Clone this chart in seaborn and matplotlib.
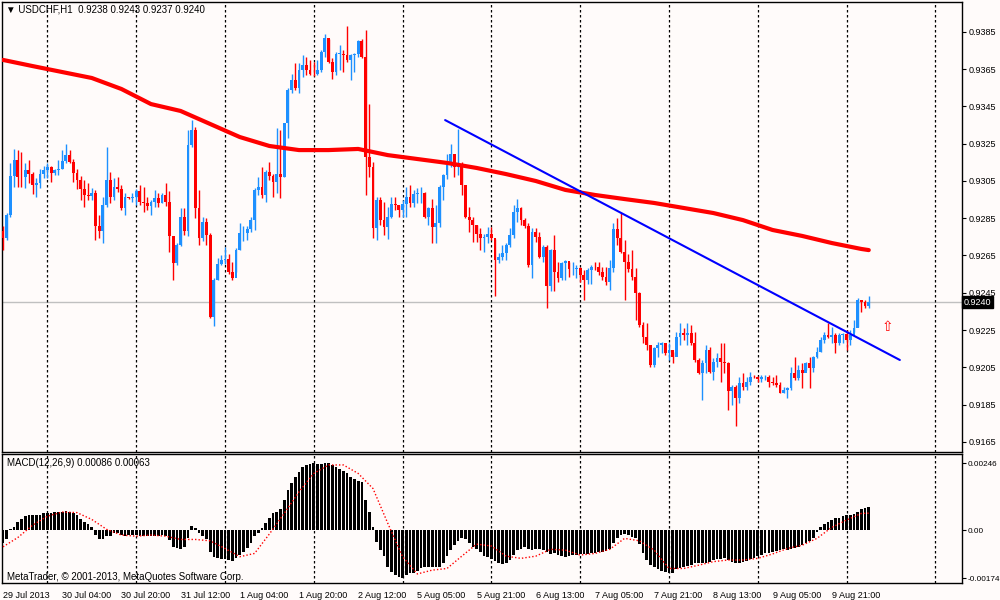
import matplotlib
matplotlib.use("Agg")
import matplotlib.pyplot as plt
import matplotlib.transforms as mtransforms
import seaborn as sns

sns.set_style("white")
plt.rcParams['font.family'] = ['Liberation Sans', 'DejaVu Sans']

# USDCHF H1 candles (open of each bar = previous close)
first_open = 0.92779
closes = [
    0.92743, 0.92868, 0.93076, 0.93165, 0.93073, 0.93069, 0.93108, 0.93090, 0.93028, 0.93037,
    0.93087, 0.93108, 0.93126, 0.93094, 0.93108, 0.93117, 0.93158, 0.93188, 0.93153, 0.93094,
    0.93058, 0.93005, 0.92975, 0.92969, 0.92987, 0.92806, 0.92779, 0.92921, 0.93058, 0.92966,
    0.93019, 0.93005, 0.92903, 0.92966, 0.92957, 0.92966, 0.92998, 0.92939, 0.92930, 0.92916,
    0.92939, 0.92957, 0.92930, 0.92975, 0.92939, 0.92752, 0.92608, 0.92706, 0.92859, 0.92779,
    0.93244, 0.93324, 0.92904, 0.92743, 0.92832, 0.92761, 0.92322, 0.92518, 0.92607, 0.92628,
    0.92632, 0.92562, 0.92527, 0.92679, 0.92770, 0.92770, 0.92791, 0.92841, 0.93001, 0.93019,
    0.92975, 0.93099, 0.93076, 0.93046, 0.93090, 0.93069, 0.93361, 0.93538, 0.93592, 0.93547,
    0.93645, 0.93672, 0.93645, 0.93627, 0.93622, 0.93645, 0.93743, 0.93819, 0.93690, 0.93636,
    0.93734, 0.93734, 0.93725, 0.93702, 0.93725, 0.93734, 0.93802, 0.93716, 0.93180, 0.93126,
    0.92796, 0.92947, 0.92840, 0.92804, 0.92858, 0.92929, 0.92920, 0.92894, 0.92926, 0.92965,
    0.92930, 0.92979, 0.92983, 0.92987, 0.92858, 0.92903, 0.92805, 0.92823, 0.93019, 0.93081,
    0.93134, 0.93197, 0.93125, 0.93134, 0.93028, 0.92858, 0.92841, 0.92814, 0.92768, 0.92742,
    0.92751, 0.92768, 0.92742, 0.92626, 0.92644, 0.92662, 0.92706, 0.92760, 0.92885, 0.92903,
    0.92841, 0.92808, 0.92599, 0.92777, 0.92751, 0.92644, 0.92697, 0.92484, 0.92679, 0.92564,
    0.92528, 0.92608, 0.92620, 0.92576, 0.92576, 0.92581, 0.92546, 0.92519, 0.92572, 0.92590,
    0.92587, 0.92563, 0.92537, 0.92510, 0.92581, 0.92791, 0.92743, 0.92671, 0.92617, 0.92576,
    0.92537, 0.92447, 0.92277, 0.92214, 0.92170, 0.92062, 0.92152, 0.92170, 0.92179, 0.92125,
    0.92143, 0.92107, 0.92214, 0.92232, 0.92223, 0.92232, 0.92179, 0.92089, 0.92018, 0.92071,
    0.92143, 0.92027, 0.92080, 0.92098, 0.92080, 0.92071, 0.91922, 0.91943, 0.91884, 0.91964,
    0.91946, 0.91973, 0.92000, 0.91996, 0.91989, 0.91996, 0.92000, 0.91973, 0.91964, 0.91955,
    0.91914, 0.91929, 0.91938, 0.92018, 0.91991, 0.92035, 0.92021, 0.92071, 0.92044, 0.92107,
    0.92134, 0.92197, 0.92223, 0.92211, 0.92223, 0.92179, 0.92223, 0.92229, 0.92197, 0.92223,
    0.92259, 0.92411, 0.92402, 0.92380, 0.92400,
]
highs = [
    0.92806, 0.92877, 0.93144, 0.93224, 0.93215, 0.93206, 0.93144, 0.93165, 0.93099, 0.93064,
    0.93117, 0.93130, 0.93144, 0.93130, 0.93117, 0.93165, 0.93215, 0.93251, 0.93215, 0.93170,
    0.93117, 0.93076, 0.93058, 0.93037, 0.93010, 0.93001, 0.92868, 0.92966, 0.93233, 0.93099,
    0.93064, 0.93069, 0.93028, 0.92984, 0.92966, 0.92984, 0.93005, 0.93028, 0.93019, 0.92966,
    0.92948, 0.93001, 0.92984, 0.92984, 0.93037, 0.92998, 0.92752, 0.92717, 0.92904, 0.92904,
    0.93324, 0.93377, 0.93342, 0.93001, 0.92859, 0.92850, 0.92770, 0.92527, 0.92634, 0.92651,
    0.92696, 0.92660, 0.92616, 0.92688, 0.92823, 0.92806, 0.92806, 0.92855, 0.93010, 0.93069,
    0.93126, 0.93108, 0.93153, 0.93087, 0.93333, 0.93324, 0.93361, 0.93547, 0.93627, 0.93681,
    0.93681, 0.93725, 0.93716, 0.93698, 0.93690, 0.93698, 0.93752, 0.93841, 0.93814, 0.93713,
    0.93743, 0.93778, 0.93752, 0.93880, 0.93734, 0.93738, 0.93805, 0.93814, 0.93860, 0.93465,
    0.93153, 0.92965, 0.92965, 0.92938, 0.92911, 0.92965, 0.92965, 0.92921, 0.92947, 0.93019,
    0.93028, 0.93001, 0.93010, 0.93019, 0.92992, 0.92912, 0.92956, 0.92921, 0.93028, 0.93090,
    0.93197, 0.93250, 0.93197, 0.93330, 0.93152, 0.93028, 0.92912, 0.92858, 0.92814, 0.92795,
    0.92768, 0.92804, 0.92804, 0.92736, 0.92662, 0.92706, 0.92715, 0.92795, 0.92921, 0.92956,
    0.92912, 0.92850, 0.92823, 0.92795, 0.92795, 0.92777, 0.92706, 0.92706, 0.92685, 0.92760,
    0.92617, 0.92617, 0.92626, 0.92617, 0.92617, 0.92599, 0.92587, 0.92572, 0.92581, 0.92599,
    0.92617, 0.92617, 0.92590, 0.92590, 0.92626, 0.92823, 0.92849, 0.92876, 0.92733, 0.92658,
    0.92680, 0.92581, 0.92456, 0.92295, 0.92286, 0.92170, 0.92161, 0.92188, 0.92188, 0.92179,
    0.92179, 0.92134, 0.92241, 0.92286, 0.92259, 0.92286, 0.92277, 0.92241, 0.92098, 0.92089,
    0.92170, 0.92161, 0.92098, 0.92125, 0.92179, 0.92179, 0.92080, 0.91955, 0.91955, 0.92000,
    0.92018, 0.92000, 0.92026, 0.92009, 0.92003, 0.92007, 0.92009, 0.92009, 0.92000, 0.92009,
    0.91973, 0.91946, 0.91946, 0.92053, 0.92107, 0.92062, 0.92071, 0.92080, 0.92107, 0.92110,
    0.92161, 0.92214, 0.92241, 0.92286, 0.92268, 0.92232, 0.92232, 0.92236, 0.92250, 0.92250,
    0.92304, 0.92420, 0.92411, 0.92411, 0.92430,
]
lows = [
    0.92681, 0.92734, 0.92859, 0.93019, 0.93019, 0.93019, 0.93015, 0.93037, 0.92980, 0.92966,
    0.93015, 0.93064, 0.93064, 0.93046, 0.93081, 0.93081, 0.93117, 0.93144, 0.93144, 0.93046,
    0.93005, 0.92948, 0.92909, 0.92948, 0.92948, 0.92734, 0.92743, 0.92717, 0.92912, 0.92930,
    0.92948, 0.92992, 0.92895, 0.92868, 0.92952, 0.92939, 0.92921, 0.92921, 0.92886, 0.92895,
    0.92868, 0.92912, 0.92912, 0.92930, 0.92916, 0.92670, 0.92519, 0.92599, 0.92699, 0.92761,
    0.92752, 0.93235, 0.92850, 0.92708, 0.92726, 0.92708, 0.92313, 0.92269, 0.92518, 0.92598,
    0.92607, 0.92553, 0.92518, 0.92562, 0.92681, 0.92726, 0.92734, 0.92774, 0.92788, 0.92975,
    0.92957, 0.92939, 0.93055, 0.92966, 0.92984, 0.92957, 0.93073, 0.93280, 0.93520, 0.93538,
    0.93520, 0.93609, 0.93618, 0.93618, 0.93613, 0.93618, 0.93636, 0.93716, 0.93681, 0.93600,
    0.93618, 0.93645, 0.93636, 0.93690, 0.93592, 0.93636, 0.93716, 0.93713, 0.92974, 0.93073,
    0.92742, 0.92733, 0.92813, 0.92760, 0.92737, 0.92849, 0.92894, 0.92858, 0.92858, 0.92858,
    0.92912, 0.92912, 0.92930, 0.92930, 0.92850, 0.92814, 0.92719, 0.92719, 0.92805, 0.92947,
    0.93063, 0.93125, 0.93072, 0.93081, 0.92974, 0.92850, 0.92777, 0.92724, 0.92724, 0.92679,
    0.92670, 0.92715, 0.92733, 0.92430, 0.92608, 0.92626, 0.92626, 0.92697, 0.92742, 0.92832,
    0.92814, 0.92795, 0.92590, 0.92528, 0.92724, 0.92635, 0.92617, 0.92368, 0.92457, 0.92457,
    0.92510, 0.92519, 0.92519, 0.92537, 0.92546, 0.92528, 0.92510, 0.92411, 0.92498, 0.92498,
    0.92572, 0.92546, 0.92519, 0.92492, 0.92466, 0.92563, 0.92707, 0.92662, 0.92411, 0.92564,
    0.92519, 0.92303, 0.92268, 0.92179, 0.92143, 0.92053, 0.92053, 0.92107, 0.92125, 0.92116,
    0.92089, 0.92075, 0.92116, 0.92170, 0.92197, 0.92170, 0.92170, 0.92080, 0.92014, 0.91874,
    0.92018, 0.92018, 0.91982, 0.92053, 0.91973, 0.92018, 0.91821, 0.91848, 0.91733, 0.91857,
    0.91929, 0.91929, 0.91955, 0.91991, 0.91973, 0.91973, 0.91982, 0.91946, 0.91955, 0.91946,
    0.91911, 0.91911, 0.91884, 0.91929, 0.91982, 0.91982, 0.91937, 0.92035, 0.91937, 0.92026,
    0.92098, 0.92134, 0.92179, 0.92205, 0.92179, 0.92125, 0.92170, 0.92179, 0.92143, 0.92170,
    0.92241, 0.92268, 0.92349, 0.92367, 0.92370,
]

# moving average (thick red), sampled every 8 bars
ma_bars = [0, 8, 16, 24, 32, 40, 48, 56, 64, 72, 80, 88, 96, 104, 112, 120, 128, 136,
           144, 152, 160, 168, 176, 184, 192, 200, 208, 216, 224, 232, 234]
ma_vals = [0.93700, 0.93667, 0.93635, 0.93603, 0.93544, 0.93463, 0.93426, 0.93356, 0.93286,
           0.93238, 0.93216, 0.93216, 0.93222, 0.93189, 0.93168, 0.93147, 0.93120, 0.93087,
           0.93050, 0.93002, 0.92975, 0.92953, 0.92932, 0.92905, 0.92878, 0.92840, 0.92787,
           0.92755, 0.92717, 0.92685, 0.92679]

# hand drawn trend line
trend_bars = [119.5, 242.4]
trend_prices = [0.93377, 0.92089]
last_price = 0.9240

# MACD(12,26,9) histogram, one value per bar
macd = [
    -0.00047, -0.00033, 0.00004, 0.00013, 0.00032, 0.00041, 0.00054, 0.00055, 0.00055, 0.00056,
    0.00057, 0.00062, 0.00065, 0.00065, 0.00066, 0.00066, 0.00067, 0.00071, 0.00069, 0.00062,
    0.00055, 0.00043, 0.00032, 0.00023, 0.00011, -0.00017, -0.00033, -0.00033, -0.00021, -0.00021,
    -0.00011, -0.00011, -0.00017, -0.00019, -0.00018, -0.00017, -0.00017, -0.00021, -0.00021, -0.00021,
    -0.00021, -0.00021, -0.00021, -0.00017, -0.00021, -0.00035, -0.00060, -0.00066, -0.00069, -0.00060,
    -0.00029, 0.00016, 0.00007, -0.00011, -0.00021, -0.00033, -0.00078, -0.00096, -0.00102, -0.00106,
    -0.00106, -0.00108, -0.00111, -0.00102, -0.00090, -0.00078, -0.00066, -0.00047, -0.00021, -0.00009,
    0.00007, 0.00026, 0.00044, 0.00062, 0.00068, 0.00077, 0.00111, 0.00147, 0.00174, 0.00194,
    0.00214, 0.00230, 0.00239, 0.00242, 0.00245, 0.00242, 0.00242, 0.00246, 0.00245, 0.00239,
    0.00230, 0.00223, 0.00218, 0.00208, 0.00196, 0.00186, 0.00181, 0.00178, 0.00111, 0.00068,
    0.00013, -0.00041, -0.00072, -0.00094, -0.00133, -0.00151, -0.00163, -0.00169, -0.00174, -0.00163,
    -0.00157, -0.00157, -0.00147, -0.00139, -0.00133, -0.00133, -0.00135, -0.00135, -0.00133, -0.00120,
    -0.00094, -0.00072, -0.00054, -0.00038, -0.00029, -0.00033, -0.00047, -0.00060, -0.00069, -0.00078,
    -0.00094, -0.00096, -0.00106, -0.00111, -0.00120, -0.00123, -0.00118, -0.00108, -0.00090, -0.00072,
    -0.00069, -0.00062, -0.00069, -0.00072, -0.00069, -0.00069, -0.00072, -0.00078, -0.00086, -0.00084,
    -0.00090, -0.00094, -0.00096, -0.00094, -0.00090, -0.00090, -0.00086, -0.00086, -0.00086, -0.00084,
    -0.00084, -0.00078, -0.00078, -0.00074, -0.00069, -0.00047, -0.00026, -0.00017, -0.00013, -0.00017,
    -0.00023, -0.00029, -0.00050, -0.00084, -0.00108, -0.00127, -0.00135, -0.00142, -0.00147, -0.00151,
    -0.00155, -0.00155, -0.00142, -0.00139, -0.00135, -0.00130, -0.00127, -0.00120, -0.00120, -0.00118,
    -0.00118, -0.00114, -0.00108, -0.00106, -0.00106, -0.00102, -0.00108, -0.00114, -0.00118, -0.00118,
    -0.00114, -0.00111, -0.00106, -0.00099, -0.00094, -0.00090, -0.00084, -0.00082, -0.00078, -0.00074,
    -0.00072, -0.00069, -0.00072, -0.00069, -0.00066, -0.00060, -0.00054, -0.00047, -0.00038, -0.00026,
    -0.00005, 0.00011, 0.00023, 0.00032, 0.00038, 0.00044, 0.00047, 0.00052, 0.00055, 0.00056,
    0.00060, 0.00068, 0.00077, 0.00083, 0.00086,
]
# signal line, sampled every 4 bars
signal_bars = [0, 4, 8, 12, 16, 20, 24, 28, 32, 36, 40, 44, 48, 52, 56, 60, 64, 68, 72, 76,
               80, 84, 88, 92, 96, 100, 104, 108, 112, 116, 120, 124, 128, 132, 136, 140, 144,
               148, 152, 156, 160, 164, 168, 172, 176, 180, 184, 188, 192, 196, 200, 204, 208,
               212, 216, 220, 224, 228, 232, 234]
signal_vals = [-0.00060, -0.00026, 0.00019, 0.00052, 0.00067, 0.00065, 0.00040, 0.00004,
               -0.00017, -0.00021, -0.00017, -0.00021, -0.00033, -0.00033, -0.00038, -0.00066,
               -0.00096, -0.00084, -0.00013, 0.00062, 0.00141, 0.00208, 0.00239, 0.00239,
               0.00208, 0.00153, 0.00026, -0.00096, -0.00159, -0.00145, -0.00139, -0.00094,
               -0.00050, -0.00057, -0.00094, -0.00102, -0.00094, -0.00069, -0.00072, -0.00090,
               -0.00084, -0.00069, -0.00029, -0.00038, -0.00072, -0.00139, -0.00139, -0.00127,
               -0.00114, -0.00108, -0.00108, -0.00102, -0.00086, -0.00066, -0.00054, -0.00029,
               0.00011, 0.00038, 0.00062, 0.00063]

price_ticks = [0.9165, 0.9185, 0.9205, 0.9225, 0.9245, 0.9265, 0.9285, 0.9305, 0.9325,
               0.9345, 0.9365, 0.9385]
time_tick_bars = [0, 16, 32, 48, 64, 80, 96, 112, 128, 144, 160, 176, 192, 208, 224]
time_labels = ["29 Jul 2013", "30 Jul 04:00", "30 Jul 20:00", "31 Jul 12:00", "1 Aug 04:00",
               "1 Aug 20:00", "2 Aug 12:00", "5 Aug 05:00", "5 Aug 21:00", "6 Aug 13:00",
               "7 Aug 05:00", "7 Aug 21:00", "8 Aug 13:00", "9 Aug 05:00", "9 Aug 21:00"]
separator_bars = [12, 36, 60, 84, 108, 132, 156, 180, 204, 228, 252]

BG = "#FFFBFA"
BULL = "#1E90FF"
BEAR = "#FF0000"
FS = 6.5

fig = plt.figure(figsize=(10, 6), dpi=100, facecolor=BG)
# pixel layout: price panel y 2..452, MACD panel y 454..583, x 2..962
ax = fig.add_axes([0.002, 1 - 452 / 600, 0.960, 450 / 600], facecolor=BG)
ax2 = fig.add_axes([0.002, 1 - 583 / 600, 0.960, 129 / 600], facecolor=BG)

n = len(closes)
bars = list(range(n))
opens = [first_open] + closes[:-1]
cols = [BULL if c >= o else BEAR for o, c in zip(opens, closes)]

# candles
ax.vlines(bars, lows, highs, colors=cols, linewidth=1.0, zorder=3)
bottoms = [min(o, c) for o, c in zip(opens, closes)]
heights = [max(abs(c - o), 0.00002) for o, c in zip(opens, closes)]
ax.bar(bars, heights, bottom=bottoms, width=0.76, color=cols, linewidth=0, zorder=4)

# moving average, trend line, current price
sns.lineplot(x=ma_bars, y=ma_vals, ax=ax, color="#FF0000", linewidth=3.0, sort=False, zorder=5)
sns.lineplot(x=trend_bars, y=trend_prices, ax=ax, color="#0000FF", linewidth=1.5, sort=False, zorder=6)
ax.axhline(last_price, color="#C0C0C0", linewidth=1, zorder=1)
ax.text(239, 0.92266, "\u21e7", color="#FF0000", fontsize=10, ha="center", va="center",
        zorder=7, family=["DejaVu Sans"])

for a in (ax, ax2):
    for b in separator_bars:
        a.axvline(b, color="black", linewidth=0.9, linestyle=(0, (2, 2)), zorder=2)
    a.set_xlim(-0.27, 259.2)
    for s in a.spines.values():
        s.set_color("black")
        s.set_linewidth(1)
    a.yaxis.tick_right()
    a.tick_params(axis="y", direction="out", length=3, width=0.8, pad=1.5, labelsize=FS,
                  colors="black", right=True, left=False)
    a.set_xlabel("")
    a.set_ylabel("")

ax.set_ylim(0.91595, 0.94011)
ax.set_yticks(price_ticks)
ax.set_yticklabels([f"{p:.4f}" for p in price_ticks])
ax.set_xticks([])

# price box
trans = mtransforms.blended_transform_factory(ax.transAxes, ax.transData)
ax.text(1.002, last_price, f"{last_price:.4f}", transform=trans, color="white", fontsize=FS,
        ha="left", va="center", zorder=10,
        bbox=dict(boxstyle="square,pad=0.2", fc="black", ec="black"))

# MACD panel
ax2.bar(bars, macd, width=0.72, color="black", linewidth=0, zorder=3)
sns.lineplot(x=signal_bars, y=signal_vals, ax=ax2, color="#FF0000", linewidth=1,
             linestyle=(0, (1, 1.5)), sort=False, zorder=4)
ax2.set_ylim(-0.00192, 0.00279)
ax2.set_yticks([0.00246, 0.0, -0.00174])
ax2.set_yticklabels(["0.00246", "0.00", "-0.00174"])
ax2.tick_params(axis="y", labelsize=FS - 0.6, pad=1)
ax2.set_xticks(time_tick_bars)
ax2.set_xticklabels(time_labels, ha="left")
ax2.tick_params(axis="x", direction="out", length=4, width=0.8, pad=2, labelsize=FS, colors="black")
ax2.set_xlabel("")
ax2.set_ylabel("")

fig.text(0.006, 1 - 10 / 600, "\u25bc USDCHF,H1  0.9238 0.9243 0.9237 0.9240",
         fontsize=FS + 0.5, va="center", ha="left", color="black")
fig.text(0.007, 1 - 463 / 600, "MACD(12,26,9) 0.00086 0.00063", fontsize=FS + 0.5,
         va="center", ha="left", color="black")
fig.text(0.007, 1 - 577 / 600, "MetaTrader, \u00a9 2001-2013, MetaQuotes Software Corp.",
         fontsize=FS + 0.5, va="center", ha="left", color="black")

fig.savefig("out.png", dpi=100, facecolor=BG)
